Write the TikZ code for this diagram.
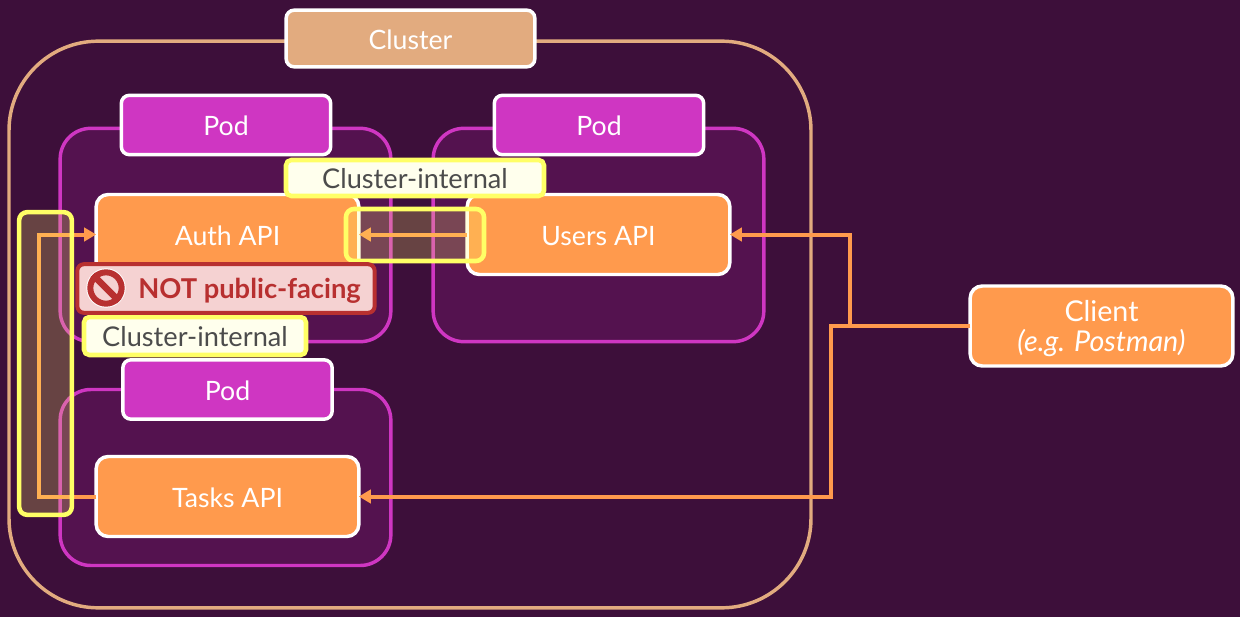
\documentclass[tikz,border=0pt]{standalone}
\usepackage{fontspec}
\setmainfont{Lato}
\usetikzlibrary{arrows.meta}

\definecolor{bgdark}{HTML}{3D0F3A}
\definecolor{podfill}{HTML}{54124F}
\definecolor{podline}{HTML}{CF36C2}
\definecolor{apiorange}{HTML}{FF9A4D}
\definecolor{clusterline}{HTML}{E2AB7F}
\definecolor{marker}{HTML}{FFFF66}
\definecolor{notered}{HTML}{B83030}
\definecolor{notepink}{HTML}{F5D2D2}

\tikzset{
	plainbox/.style={draw, rectangle, inner sep=0pt, outer sep=0pt, text=white, text height=16.5pt, text depth=0pt, font=\fontsize{20}{23}\selectfont},
	clusterbox/.style={plainbox, draw=clusterline, line width=2.6pt, rounded corners=67pt, minimum width=601.5pt, minimum height=425pt},
	clustertag/.style={plainbox, draw=white, line width=2.6pt, fill=clusterline, rounded corners=6pt, minimum width=186.5pt, minimum height=42.5pt},
	podbox/.style={plainbox, draw=podline, line width=2.6pt, fill=podfill, rounded corners=23pt, minimum width=248pt},
	podtag/.style={plainbox, draw=white, line width=2.6pt, fill=podline, rounded corners=6pt, minimum width=157pt, minimum height=44.5pt},
	apibox/.style={plainbox, draw=white, line width=2.6pt, fill=apiorange, rounded corners=9pt, minimum width=197pt, minimum height=60pt, align=center},
	link/.style={draw=apiorange, line width=3pt},
	linkhead/.style={link, -{Triangle[length=9pt, width=10pt]}},
	markbox/.style={plainbox, draw=marker, line width=3.4pt, fill=marker, fill opacity=0.22, draw opacity=1, rounded corners=6pt},
	internaltag/.style={plainbox, draw=marker, line width=3.4pt, fill=marker!12!white, rounded corners=4pt, text=black!70, text height=15.5pt, font=\fontsize{20.4}{22}\selectfont},
}

\begin{document}
\begin{tikzpicture}[x=0.75pt, y=-0.75pt]
	\useasboundingbox (0, 0) rectangle (1240, 617);
	\fill[bgdark] (0, 0) rectangle (1240, 617);

	\node[clusterbox] (clusterframe) at (410, 324.5) {};
	\node[clustertag] (clusterlabel) at (410.5, 38.5) {Cluster};

	% pods
	\node[podbox, minimum height=160pt] (authpod) at (225.5, 235) {};
	\node[podbox, minimum height=160pt] (userspod) at (598.5, 235) {};
	\node[podbox, minimum height=132pt] (taskspod) at (225.5, 477.5) {};
	\node[podtag] (authtag) at (226, 125) {Pod};
	\node[podtag] (userstag) at (599, 125) {Pod};
	\node[podtag] (taskstag) at (227.5, 389.5) {Pod};

	% services
	\node[apibox] (authapi) at (227.5, 234.5) {Auth API};
	\node[apibox] (usersapi) at (598.5, 234.5) {Users API};
	\node[apibox] (tasksapi) at (227.5, 496.5) {Tasks API};
	\node[apibox, text height={}, text depth={}, font=\fontsize{21.5}{22.5}\selectfont] (clientapp) at (1101.5, 326) {\rule{0pt}{20pt}Client\\\textit{(e.g. Postman)}};

	\coordinate (tasksbend) at (39, 496.5);
	\coordinate (usersturn) at (850, 326);
	\coordinate (tasksturn) at (831, 326);

	% connections
	\draw[linkhead] (tasksapi.west) -- (tasksbend) |- (authapi.west);
	\draw[linkhead] (usersapi.west) -- (authapi.east);
	\draw[linkhead] (clientapp.west) -- (usersturn) |- (usersapi.east);
	\draw[linkhead] (clientapp.west) -- (tasksturn) |- (tasksapi.east);

	% highlighted routes
	\node[markbox, minimum width=103.5pt, minimum height=39pt] (usersmark) at (415, 235) {};
	\node[markbox, minimum width=39.5pt, minimum height=227pt] (tasksmark) at (45.5, 363.5) {};

	\node[internaltag, minimum width=193.5pt, minimum height=27pt] (upperinternal) at (415, 178) {Cluster-internal};
	\node[internaltag, minimum width=166.5pt, minimum height=28.5pt] (lowerinternal) at (195, 336) {Cluster-internal};

	% warning
	\node[plainbox, draw=notered, line width=3pt, fill=notepink, rounded corners=5pt, minimum width=223pt, minimum height=36.5pt] (warningbox) at (226, 288.5) {};
	\node[circle, fill=white, inner sep=0pt, minimum size=29.5pt] (signback) at (106, 288) {};
	\node[circle, draw=notered, line width=4.5pt, fill=notepink, inner sep=0pt, minimum size=23.5pt] (signring) at (106, 288) {};
	\draw[notered, line width=5pt] (signring.135) -- (signring.-45);
	\node[anchor=west, inner sep=0pt, text=notered, font=\fontsize{20.5}{23}\selectfont\bfseries] (warningtext) at (138, 291) {NOT public-facing};
\end{tikzpicture}
\end{document}
